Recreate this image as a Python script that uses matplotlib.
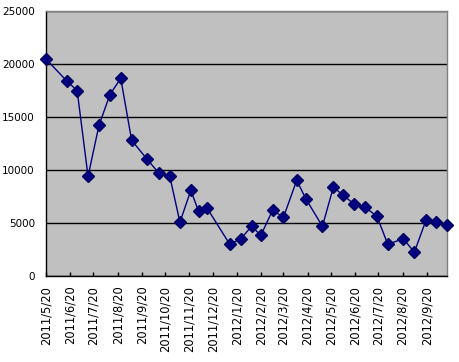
import matplotlib
matplotlib.use("Agg")
import matplotlib.pyplot as plt
import matplotlib.dates as mdates
import pandas as pd

dates = ["2011-05-20", "2011-06-16", "2011-06-29", "2011-07-13", "2011-07-27",
         "2011-08-10", "2011-08-24", "2011-09-07", "2011-09-27", "2011-10-12",
         "2011-10-26", "2011-11-08", "2011-11-22", "2011-12-02", "2011-12-13",
         "2012-01-11", "2012-01-25", "2012-02-08", "2012-02-20", "2012-03-06",
         "2012-03-20", "2012-04-06", "2012-04-18", "2012-05-09", "2012-05-23",
         "2012-06-05", "2012-06-19", "2012-07-03", "2012-07-18", "2012-08-01",
         "2012-08-21", "2012-09-04", "2012-09-19", "2012-10-02", "2012-10-16"]
values = [20470, 18370, 17500, 9400, 14200, 17100, 18650, 12800, 11000, 9700,
          9400, 5070, 8080, 6100, 6390, 2990, 3490, 4690, 3840, 6200,
          5540, 9030, 7240, 4690, 8370, 7610, 6760, 6480, 5630, 2990,
          3520, 2240, 5250, 5070, 4780]
tick_dates = ["2011-05-20", "2011-06-20", "2011-07-20", "2011-08-20", "2011-09-20",
              "2011-10-20", "2011-11-20", "2011-12-20", "2012-01-20", "2012-02-20",
              "2012-03-20", "2012-04-20", "2012-05-20", "2012-06-20", "2012-07-20",
              "2012-08-20", "2012-09-20"]
tick_labels = ["2011/5/20", "2011/6/20", "2011/7/20", "2011/8/20", "2011/9/20",
               "2011/10/20", "2011/11/20", "2011/12/20", "2012/1/20", "2012/2/20",
               "2012/3/20", "2012/4/20", "2012/5/20", "2012/6/20", "2012/7/20",
               "2012/8/20", "2012/9/20"]
y_ticks = [0, 5000, 10000, 15000, 20000, 25000]

x = pd.to_datetime(dates)
xt = pd.to_datetime(tick_dates)

W, H = 459, 362
fig = plt.figure(figsize=(W / 100, H / 100), dpi=100)
ax = fig.add_axes([46 / W, (H - 276) / H, (447 - 46) / W, (276 - 11) / H])
ax.set_facecolor("#C0C0C0")

ax.plot(x, values, color="#000080", linewidth=1.0, marker="D", markersize=6,
        markerfacecolor="#000080", markeredgecolor="#000060", zorder=3,
        clip_on=False)

ax.set_xlim(x[0], x[-1])
ax.set_ylim(0, 25000)
ax.set_yticks(y_ticks)
ax.set_yticklabels([str(v) for v in y_ticks], fontsize=7.5)
ax.yaxis.grid(True, color="black", linewidth=1.0)
ax.set_axisbelow(True)
ax.tick_params(axis="y", length=0, pad=8)

ax.set_xticks(xt)
ax.set_xticklabels(tick_labels, rotation=90, fontsize=8.3)
ax.tick_params(axis="x", direction="in", length=3, width=1, color="black", pad=7)

for s in ["top", "right"]:
    ax.spines[s].set_color("#808080")
    ax.spines[s].set_linewidth(1.0)
for s in ["left", "bottom"]:
    ax.spines[s].set_color("black")
    ax.spines[s].set_linewidth(1.0)

fig.savefig("out.png", dpi=100)
